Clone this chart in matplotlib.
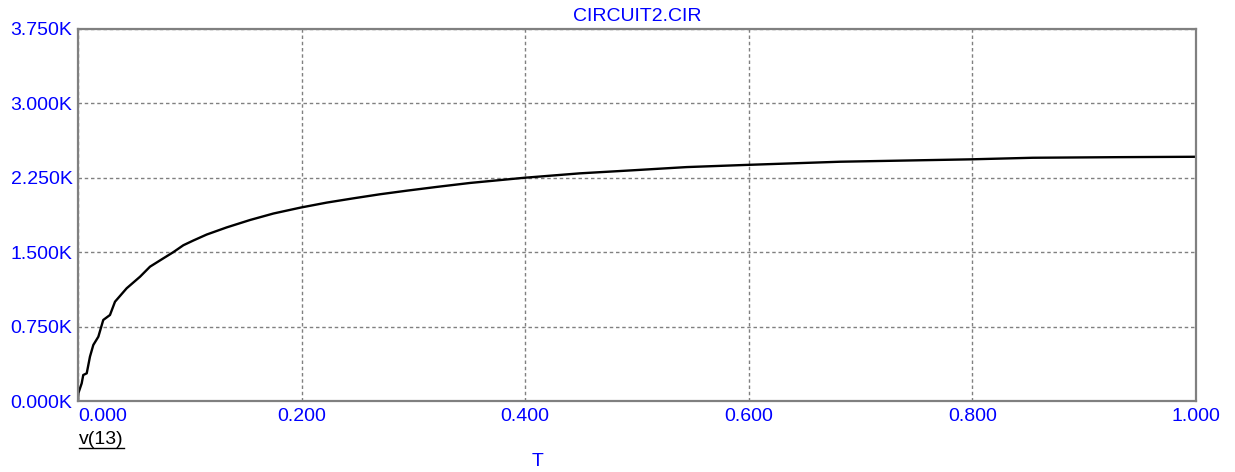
import numpy as np
import matplotlib.pyplot as plt
from matplotlib.lines import Line2D

plt.rcParams["font.family"] = ["Liberation Sans", "DejaVu Sans"]

# v(13) transient (T in s, volts)
t_vals = [0.0, 0.0003, 0.0033, 0.0047, 0.0078, 0.0107, 0.0137, 0.0182, 0.0226,
          0.0286, 0.0331, 0.0435, 0.0555, 0.0644, 0.0763, 0.0852, 0.0942,
          0.1032, 0.1151, 0.133, 0.154, 0.1748, 0.1992, 0.2225, 0.2463,
          0.2701, 0.294, 0.3208, 0.3506, 0.3989, 0.449, 0.4967, 0.5444,
          0.598, 0.6816, 0.798, 0.854, 0.93, 1.0]
v_vals = [0, 78, 178, 262, 279, 447, 565, 648, 817,
          867, 1001, 1136, 1253, 1354, 1438, 1500, 1570,
          1618, 1678, 1750, 1825, 1890, 1950, 2000, 2043,
          2084, 2120, 2158, 2198, 2250, 2295, 2326, 2358,
          2380, 2412, 2436, 2452, 2458, 2462]

x_ticks = [0.0, 0.2, 0.4, 0.6, 0.8, 1.0]
x_labels = ["0.000", "0.200", "0.400", "0.600", "0.800", "1.000"]
y_ticks = [0, 750, 1500, 2250, 3000, 3750]
y_labels = ["0.000K", "0.750K", "1.500K", "2.250K", "3.000K", "3.750K"]

blue = "#0000ff"
frame = "#808080"

fig = plt.figure(figsize=(12.35, 4.72), dpi=100)
ax = fig.add_axes([78 / 1235, 1 - 401 / 472, (1196 - 78) / 1235, (401 - 29) / 472])

ax.plot(t_vals, v_vals, color="black", lw=1.7)

ax.set_xlim(0, 1.0)
ax.set_ylim(0, 3750)
ax.set_xticks(x_ticks)
ax.set_xticklabels(x_labels)
ax.set_yticks(y_ticks)
ax.set_yticklabels(y_labels)
ax.tick_params(axis="both", length=0, labelsize=14, labelcolor=blue)
ax.tick_params(axis="x", pad=5)
ax.tick_params(axis="y", pad=4)
ax.get_xticklabels()[0].set_horizontalalignment("left")

ax.grid(True, color="#808080", linestyle=(0, (2.5, 2)), linewidth=1.0)
for s in ax.spines.values():
    s.set_color(frame)
    s.set_linewidth(1.6)

fig.text(637 / 1235, 1 - 16.5 / 472, "CIRCUIT2.CIR", color=blue, fontsize=14,
         ha="center", va="center")
fig.text(538 / 1235, 1 - 462 / 472, "T", color=blue, fontsize=14,
         ha="center", va="center")

lbl = fig.text(79 / 1235, 1 - 440 / 472, "v(13)", color="black", fontsize=14,
               ha="left", va="center")
fig.canvas.draw()
bb = lbl.get_window_extent().transformed(fig.transFigure.inverted())
fig.add_artist(Line2D([bb.x0, bb.x1], [1 - 448 / 472, 1 - 448 / 472],
                      transform=fig.transFigure, color="black", lw=1.0))

fig.savefig("out.png", dpi=100)
